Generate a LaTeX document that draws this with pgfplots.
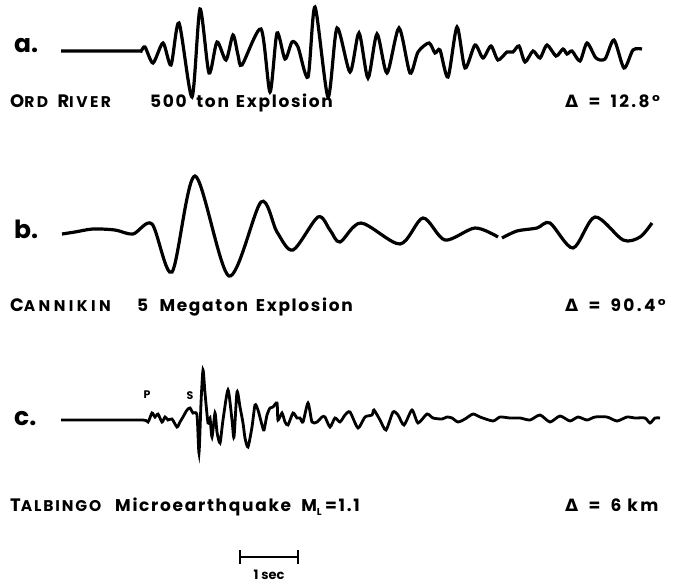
\documentclass[border=0pt]{standalone}
\usepackage{pgfplots}
\pgfplotsset{compat=1.18}
\usepackage{fontspec}
\setmainfont{Poppins}
\newfontfamily\dejavu{DejaVu Sans}
\newcommand{\ls}{\addfontfeature{LetterSpace=10}}
\begin{document}
\begin{tikzpicture}
\begin{axis}[
  width=678pt, height=586pt, scale only axis,
  xmin=0, xmax=678, ymin=0, ymax=586, y dir=reverse,
  hide axis, clip=false,
]
\path (axis cs:0,0) rectangle (axis cs:678,586);
% trace a
\addplot[black, line width=3.2pt, smooth, tension=0.45] coordinates {
(61,51)(137,51)(141,51)(145,47)(153,63)(163,43)(171,65)(179,23)(192,97)(200,9)(209,73)(217,42)(226,60)(233,35)(238,55)(242,65)(261,29)(270,92)(277,33)(285,59)(292,42)(298,47)(308,77)(315,7)(328,97)(337,28)(350,72)(359,33)(368,78)(377,34)(387,73)(399,28)(410,73)(418,52)(429,43)(435,53)(440,50)(448,77)(457,27)(465,68)(475,45)(483,58)(491,46)(498,60)(507,52)(513,52)(519,46)(525,62)(533,51)(540,58)(547,45)(556,56)(563,49)(567,54)(572,51)(580,61)(587,43)(596,58)(605,59)(614,40)(624,68)(633,50)(642,49)
};
% trace b
\addplot[black, line width=3.2pt, smooth, tension=0.5] coordinates {
(62,234)(75,232)(93,229)(115,230)(133,234)(152,224)(172,272)(195,176)(229,276)(261,202)(277,232)(293,250)(318,217)(330,230)(340,242)(361,223)(400,244)(423,218)(445,240)(475,228)(498,237)
};
\addplot[black, line width=3.2pt, smooth, tension=0.5] coordinates {
(502,238)(517,231)(537,228)(550,223)(573,248)(595,217)(623,240)(640,237)(652,223)
};
% trace c
\addplot[black, line width=2.8pt, smooth, tension=0.4] coordinates {
(61,420)(100,420)(143,420)(148,422)(152,413)(155,417)(158,414)(162,422)(165,417)(168,420)(172,419)(177,427)(180,422)(183,417)(187,410)(190,408)(193,413)(197,415)(199,453)(201,403)(203,370)(205,393)(208,423)(210,418)(212,437)(215,413)(217,432)(220,443)(223,420)(228,390)(232,420)(234,437)(237,392)(240,407)(243,423)(245,438)(248,447)(252,427)(255,405)(258,410)(262,425)(264,430)(267,415)(270,408)(273,407)(277,403)(278,420)(282,413)(285,422)(288,425)(293,413)(297,418)(300,418)(303,422)(308,403)(312,422)(317,422)(322,417)(325,417)(330,427)(335,418)(340,422)(345,415)(350,412)(358,428)(365,417)(372,415)(374,410)(380,420)(386,430)(393,412)(398,415)(404,425)(412,410)(418,423)(427,414)(433,418)(442,419)(447,417)(452,418)(458,422)(465,419)(473,414)(480,417)(493,421)(500,417)(510,418)(520,418)(530,420)(540,415)(550,422)(560,416)(570,421)(578,417)(587,420)(595,417)(607,417)(617,421)(627,417)(635,418)(645,418)(650,423)(655,418)(660,418)
};
% scale bar
\addplot[black, line width=2.8pt] coordinates {(240,557)(298,557)};
\addplot[black, line width=1.6pt] coordinates {(240,550)(240,564)};
\addplot[black, line width=1.6pt] coordinates {(298,550)(298,564)};
% labels
\node[anchor=west, inner sep=0pt, font=\fontsize{25}{27}\selectfont\bfseries] at (axis cs:14,46) {a.};
\node[anchor=west, inner sep=0pt, font=\fontsize{25}{27}\selectfont\bfseries] at (axis cs:14,229) {b.};
\node[anchor=west, inner sep=0pt, font=\fontsize{25}{27}\selectfont\bfseries] at (axis cs:14,419) {c.};
\node[anchor=base west, inner sep=0pt, font=\fontsize{15.5}{16}\selectfont\bfseries\addfontfeature{LetterSpace=16}] at (axis cs:10,107) {{\fontsize{18}{19}\selectfont O}RD\hspace{0.6em}{\fontsize{18}{19}\selectfont R}IVER};
\node[anchor=base west, inner sep=0pt, font=\fontsize{17}{19}\selectfont\bfseries\ls] at (axis cs:150,107) {500\hspace{0.25em} ton\hspace{0.1em} Explosion};
\node[anchor=base west, inner sep=0pt, font=\fontsize{17}{19}\selectfont\bfseries\addfontfeature{LetterSpace=14}] at (axis cs:565,107) {{\dejavu\bfseries Δ}\hspace{0.6em}=\hspace{0.6em}12.8°};
\node[anchor=base west, inner sep=0pt, font=\fontsize{15.5}{16}\selectfont\bfseries\addfontfeature{LetterSpace=22}] at (axis cs:10,311) {{\fontsize{18}{19}\selectfont C}ANNIKIN};
\node[anchor=base west, inner sep=0pt, font=\fontsize{17}{19}\selectfont\bfseries\ls] at (axis cs:137,311) {5\hspace{0.35em} Megaton\hspace{0.15em} Explosion};
\node[anchor=base west, inner sep=0pt, font=\fontsize{17}{19}\selectfont\bfseries\addfontfeature{LetterSpace=14}] at (axis cs:565,311) {{\dejavu\bfseries Δ}\hspace{0.6em}=\hspace{0.6em}90.4°};
\node[anchor=base west, inner sep=0pt, font=\fontsize{15.5}{16}\selectfont\bfseries\addfontfeature{LetterSpace=12}] at (axis cs:10,511) {{\fontsize{18}{19}\selectfont T}ALBINGO};
\node[anchor=base west, inner sep=0pt, font=\fontsize{17}{19}\selectfont\bfseries\ls] at (axis cs:115,511) {Microearthquake\hspace{0.6em}M\raisebox{-0.25em}{\fontsize{10}{11}\selectfont L}\hspace{0.2em}=\hspace{0.1em}1.1};
\node[anchor=base west, inner sep=0pt, font=\fontsize{17}{19}\selectfont\bfseries\addfontfeature{LetterSpace=14}] at (axis cs:565,511) {{\dejavu\bfseries Δ}\hspace{0.6em}=\hspace{0.6em}6 km};
\node[font=\fontsize{11}{12}\selectfont\bfseries] at (axis cs:147,395) {P};
\node[font=\fontsize{11}{12}\selectfont\bfseries] at (axis cs:190,396) {S};
\node[anchor=base, inner sep=0pt, font=\fontsize{13}{14}\selectfont\bfseries] at (axis cs:269,579) {1 sec};
\end{axis}
\end{tikzpicture}
\end{document}
